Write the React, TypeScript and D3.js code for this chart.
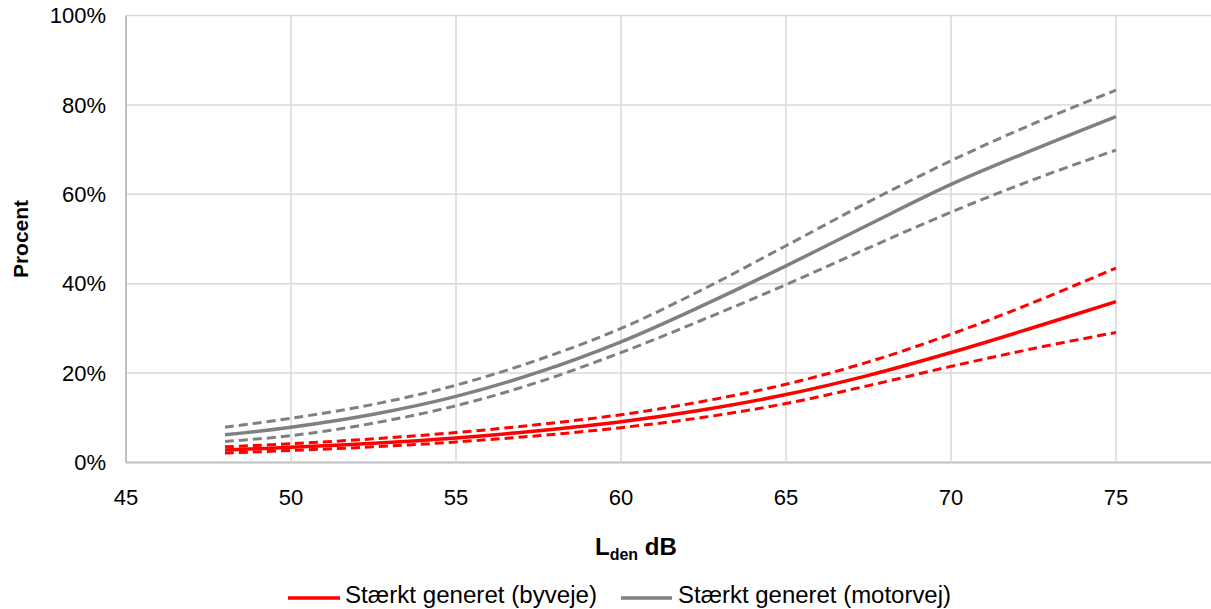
import React from "react";
import * as d3 from "d3";

const xTicks = [45, 50, 55, 60, 65, 70, 75];
const yTicks = [0, 20, 40, 60, 80, 100];
const dB = [48, 50, 52.5, 55, 57.5, 60, 62.5, 65, 67.5, 70, 72.5, 75];

const byvejeMid = [2.8, 3.4, 4.3, 5.5, 7.1, 9.1, 11.8, 15.2, 19.5, 24.6, 30.2, 36.0];
const byvejeHigh = [3.5, 4.2, 5.3, 6.7, 8.5, 10.7, 13.7, 17.5, 22.5, 28.7, 35.8, 43.5];
const byvejeLow = [2.1, 2.7, 3.5, 4.6, 6.0, 7.8, 10.1, 13.2, 17.2, 21.5, 25.5, 29.1];

const motorvejMid = [6.2, 7.9, 10.8, 14.8, 20.2, 27.0, 35.2, 44.0, 53.2, 62.2, 70.0, 77.4];
const motorvejHigh = [7.9, 9.9, 13.0, 17.3, 23.0, 30.0, 38.8, 48.5, 58.3, 67.5, 75.8, 83.3];
const motorvejLow = [4.7, 6.0, 8.8, 12.7, 18.0, 24.6, 32.0, 39.8, 48.0, 56.0, 63.3, 69.9];

const legendLabels = ["Stærkt generet (byveje)", "Stærkt generet (motorvej)"];

const RED = "#ff0000";
const GRAY = "#808080";

export default function App() {
  const W = 1211, H = 609;
  const x = d3.scaleLinear().domain([45, 78]).range([126, 1215]);
  const y = d3.scaleLinear().domain([0, 100]).range([462.5, 15.5]);
  const line = d3
    .line<number>()
    .x((_, i) => x(dB[i]))
    .y((v) => y(v))
    .curve(d3.curveCatmullRom.alpha(0.5));

  const series = [
    { vals: motorvejHigh, color: GRAY, dash: "9,5" },
    { vals: motorvejLow, color: GRAY, dash: "9,5" },
    { vals: motorvejMid, color: GRAY, dash: null },
    { vals: byvejeHigh, color: RED, dash: "9,5" },
    { vals: byvejeLow, color: RED, dash: "9,5" },
    { vals: byvejeMid, color: RED, dash: null },
  ];
  const font = "'Liberation Sans', Arial, sans-serif";

  return (
    <svg
      width={W}
      height={H}
      style={{ position: "absolute", left: 0, top: 0, background: "#fff" }}
      fontFamily={font}
    >
      <rect x={0} y={0} width={W} height={H} fill="#fff" />
      {yTicks.map((t) => (
        <line
          key={"gy" + t}
          x1={x(45)}
          x2={x(78)}
          y1={y(t)}
          y2={y(t)}
          stroke={t === 0 ? "#bfbfbf" : "#d9d9d9"}
          strokeWidth={t === 0 ? 2 : 1.5}
        />
      ))}
      {xTicks.map((t) => (
        <line
          key={"gx" + t}
          x1={x(t)}
          x2={x(t)}
          y1={y(0)}
          y2={y(100)}
          stroke={t === 45 ? "#bfbfbf" : "#d9d9d9"}
          strokeWidth={t === 45 ? 2 : 1.5}
        />
      ))}
      {yTicks.map((t) => (
        <text
          key={"ty" + t}
          x={106}
          y={y(t)}
          dy="0.35em"
          textAnchor="end"
          fontSize={22}
          fill="#000"
        >
          {t}%
        </text>
      ))}
      {xTicks.map((t) => (
        <text
          key={"tx" + t}
          x={x(t)}
          y={497}
          dy="0.35em"
          textAnchor="middle"
          fontSize={22}
          fill="#000"
        >
          {t}
        </text>
      ))}
      {series.map((s, i) => (
        <path
          key={"s" + i}
          d={line(s.vals) || ""}
          fill="none"
          stroke={s.color}
          strokeWidth={s.dash ? 3 : 3.5}
          strokeDasharray={s.dash || undefined}
        />
      ))}
      <text
        transform={`translate(28,${(y(0) + y(100)) / 2}) rotate(-90)`}
        textAnchor="middle"
        fontSize={21}
        fontWeight="bold"
        fill="#000"
      >
        Procent
      </text>
      <text x={595} y={555} fontSize={24} fontWeight="bold" fill="#000">
        L<tspan fontSize={16} dy={5}>den</tspan>
        <tspan dy={-5}> dB</tspan>
      </text>
      <line x1={288} x2={340} y1={598} y2={598} stroke={RED} strokeWidth={3.5} />
      <text x={345} y={603} fontSize={23} fill="#000" textLength={252} lengthAdjust="spacingAndGlyphs">
        {legendLabels[0]}
      </text>
      <line x1={621} x2={672} y1={598} y2={598} stroke={GRAY} strokeWidth={3.5} />
      <text x={678} y={603} fontSize={23} fill="#000" textLength={273} lengthAdjust="spacingAndGlyphs">
        {legendLabels[1]}
      </text>
    </svg>
  );
}
